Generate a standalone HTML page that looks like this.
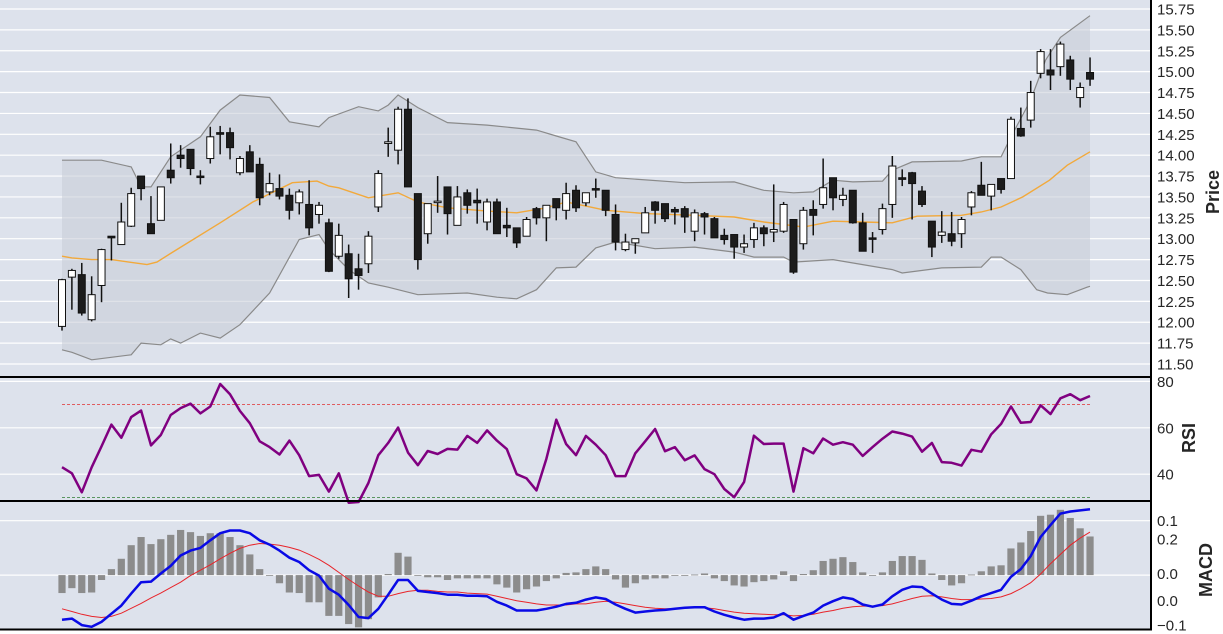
<!DOCTYPE html>
<html><head><meta charset="utf-8">
<style>
html,body{margin:0;padding:0;background:#fff;}
svg{display:block;font-family:"Liberation Sans",Arial,sans-serif;}
</style></head>
<body>
<svg id="chart" width="1223" height="634" viewBox="0 0 1223 634" xmlns="http://www.w3.org/2000/svg">
  <rect x="0" y="0" width="1151" height="377" fill="#dde2ec"/>
  <rect x="0" y="377" width="1151" height="124" fill="#dde2ec"/>
  <rect x="0" y="501" width="1151" height="129" fill="#dde2ec"/>
  <g id="grid"></g>
  <g id="band"></g>
  <g id="candles"></g>
  <g id="rsi"></g>
  <g id="macd"></g>
  <g id="axes"></g>
  <line x1="0" y1="377" x2="1152" y2="377" stroke="#000" stroke-width="2"/>
  <line x1="0" y1="501" x2="1152" y2="501" stroke="#000" stroke-width="2"/>
  <line x1="0" y1="629.5" x2="1152" y2="629.5" stroke="#000" stroke-width="2"/>
  <line x1="1151" y1="0" x2="1151" y2="630" stroke="#000" stroke-width="2"/>
  <text x="0" y="0" transform="translate(1219,192) rotate(-90)" text-anchor="middle" font-size="18" font-weight="bold" fill="#262626">Price</text>
  <text x="0" y="0" transform="translate(1195,438) rotate(-90)" text-anchor="middle" font-size="18" font-weight="bold" fill="#262626">RSI</text>
  <text x="0" y="0" transform="translate(1212,570) rotate(-90)" text-anchor="middle" font-size="18" font-weight="bold" fill="#262626">MACD</text>
</svg>
<script>
const openP=[11.95,12.54,12.57,12.03,12.44,13.03,12.93,13.15,13.75,13.18,13.22,13.82,14.00,14.07,13.75,13.96,14.27,14.27,13.79,14.04,13.89,13.56,13.60,13.52,13.43,13.41,13.29,13.19,12.79,12.82,12.64,12.70,13.38,14.14,14.06,14.55,13.54,13.06,13.44,13.62,13.16,13.55,13.46,13.20,13.44,13.16,13.13,13.03,13.36,13.25,13.48,13.34,13.58,13.43,13.60,13.58,13.29,12.87,12.95,13.07,13.44,13.42,13.35,13.36,13.09,13.30,13.24,13.04,13.05,12.90,12.99,13.13,13.08,13.09,13.23,12.94,13.35,13.41,13.73,13.47,13.58,13.19,13.01,13.11,13.41,13.73,13.79,13.57,13.21,13.04,13.06,13.06,13.38,13.64,13.51,13.72,13.72,14.32,14.42,14.98,15.02,15.06,15.14,14.69,14.99];
const highP=[12.52,12.64,12.71,12.55,12.88,13.03,13.43,13.61,13.75,13.51,13.62,14.14,14.12,14.07,13.82,14.34,14.35,14.33,13.99,14.12,13.97,13.79,13.77,13.60,13.59,13.70,13.44,13.24,13.18,12.93,12.82,13.09,13.82,14.33,14.58,14.68,13.54,13.42,13.75,13.62,13.63,13.59,13.60,13.48,13.48,13.37,13.13,13.26,13.38,13.40,13.48,13.67,13.64,13.55,13.72,13.58,13.41,13.06,13.00,13.38,13.45,13.42,13.38,13.39,13.35,13.32,13.26,13.12,13.05,13.05,13.19,13.16,13.65,13.44,13.23,13.38,13.46,13.96,13.73,13.61,13.58,13.31,13.08,13.42,13.99,13.83,13.80,13.63,13.21,13.33,13.32,13.26,13.57,13.92,13.65,13.72,14.46,14.57,14.89,15.27,15.27,15.36,15.19,14.87,15.17];
const lowP=[11.90,12.15,12.08,12.01,12.24,12.74,12.93,13.14,13.46,13.06,13.22,13.66,13.85,13.76,13.65,13.90,14.01,13.95,13.76,13.80,13.40,13.52,13.47,13.23,13.29,13.04,13.18,12.60,12.76,12.29,12.39,12.59,13.32,13.98,13.89,13.62,12.63,12.94,13.31,13.05,13.16,13.30,13.18,13.10,13.06,13.02,12.89,13.03,13.17,12.97,13.22,13.23,13.32,13.39,13.49,13.27,12.86,12.85,12.82,13.07,13.18,13.20,13.17,13.07,12.97,13.05,13.01,12.93,12.76,12.83,12.89,12.91,12.96,13.07,12.58,12.87,13.04,13.36,13.34,13.39,13.18,12.85,12.83,13.05,13.25,13.63,13.23,13.38,12.78,12.95,12.91,12.89,13.28,13.52,13.34,13.54,13.72,14.22,14.33,14.92,14.78,14.95,14.78,14.57,14.83];
const closeP=[12.51,12.62,12.11,12.33,12.87,13.01,13.20,13.54,13.60,13.06,13.62,13.73,13.96,13.84,13.74,14.22,14.25,14.09,13.96,13.80,13.49,13.66,13.51,13.34,13.56,13.13,13.40,12.61,13.04,12.52,12.56,13.03,13.78,14.16,14.55,13.62,12.75,13.42,13.45,13.30,13.50,13.40,13.43,13.44,13.06,13.13,12.95,13.23,13.25,13.40,13.37,13.54,13.37,13.55,13.59,13.34,12.96,12.96,13.00,13.31,13.34,13.24,13.32,13.26,13.31,13.26,13.01,12.99,12.90,12.94,13.13,13.06,13.11,13.41,12.60,13.34,13.28,13.61,13.49,13.52,13.19,12.85,13.00,13.36,13.87,13.71,13.66,13.41,12.90,13.08,12.97,13.23,13.55,13.52,13.65,13.59,14.43,14.23,14.75,15.24,14.96,15.33,14.91,14.81,14.91];
const upperIdx=[0,4,7,8,9,11,14,16,18,21,23,26,27,30,32,33,34,36,39,43,48,50,52,54,56,63,68,71,74,76,78,80,83,84,86,91,93,95,96,98,99.5,101,104];
const upperVal=[13.94,13.94,13.86,13.62,13.62,13.98,14.22,14.54,14.72,14.69,14.40,14.34,14.45,14.58,14.53,14.60,14.72,14.57,14.39,14.36,14.30,14.23,14.16,13.80,13.73,13.67,13.68,13.58,13.55,13.56,13.70,13.68,13.69,13.82,13.92,13.93,13.98,13.98,14.22,14.66,15.14,15.41,15.67];
const lowerIdx=[0,1,3,7,8,10,11,12,14,16,18,21,24,26,27,29,31,33,35,36,41,44,46,48,50,52,54,56,60,64,68,70,73,74,78,81,84,85,89,93,94,95,97,98.6,99.7,101.7,103.7,104];
const lowerVal=[11.67,11.64,11.55,11.61,11.75,11.73,11.80,11.75,11.87,11.81,11.97,12.35,12.99,13.05,12.87,12.63,12.47,12.42,12.36,12.33,12.35,12.30,12.28,12.39,12.65,12.66,12.89,12.96,12.88,12.90,12.84,12.78,12.78,12.72,12.75,12.69,12.63,12.59,12.65,12.66,12.78,12.78,12.63,12.39,12.35,12.33,12.42,12.43];
const maIdx=[0,1,3,5,8.6,9.6,11.2,16,19.3,23.3,25.8,27,28,31,34,36,39,43,46,49,51,53,55,59,64,68,71,75,78,81,84,86.5,91,93,95,97.2,99.9,101.7,104];
const maVal=[12.79,12.77,12.75,12.75,12.69,12.72,12.84,13.19,13.44,13.67,13.69,13.63,13.61,13.49,13.55,13.44,13.37,13.33,13.31,13.37,13.44,13.39,13.34,13.30,13.28,13.26,13.20,13.14,13.21,13.20,13.19,13.27,13.28,13.32,13.38,13.50,13.70,13.88,14.04];
const rsiVal=[43.0,40.4,32.2,43.0,52.0,61.4,55.7,64.6,67.4,52.4,56.9,65.5,68.5,70.4,66.2,69.2,78.9,74.5,67.3,62.0,54.2,51.7,48.5,54.5,48.2,39.2,39.7,32.5,40.4,27.7,28.0,36.2,48.2,53.5,60.1,49.3,43.9,50.0,48.7,50.9,50.6,56.5,53.5,58.9,54.5,50.8,40.0,38.2,33.0,46.7,63.5,53.0,48.2,56.5,52.7,48.2,39.2,39.2,49.0,54.2,59.5,49.9,51.7,46.0,48.1,42.2,40.0,33.6,30.1,36.7,56.6,53.0,53.2,53.2,32.5,51.2,49.0,55.4,52.7,53.8,52.7,47.9,51.7,55.3,58.4,57.5,56.2,49.7,53.5,45.2,44.9,43.7,50.5,49.7,57.2,61.7,69.2,62.2,62.5,69.7,65.9,72.7,74.5,71.9,73.7];
const histVal=[-0.033,-0.024,-0.033,-0.032,-0.009,0.011,0.030,0.055,0.070,0.057,0.066,0.074,0.083,0.079,0.072,0.077,0.077,0.070,0.055,0.038,0.011,-0.001,-0.015,-0.032,-0.033,-0.050,-0.050,-0.075,-0.075,-0.090,-0.096,-0.081,-0.041,0.002,0.041,0.034,-0.001,-0.004,-0.004,-0.009,-0.006,-0.006,-0.006,-0.006,-0.017,-0.023,-0.032,-0.026,-0.021,-0.011,-0.006,0.004,0.005,0.011,0.016,0.011,-0.008,-0.023,-0.015,-0.008,-0.006,-0.006,0,0,0.001,0.003,-0.006,-0.011,-0.019,-0.021,-0.013,-0.011,-0.008,0.007,-0.011,0.002,0.009,0.026,0.030,0.033,0.024,0.005,-0.001,0.005,0.026,0.035,0.035,0.028,0.003,-0.009,-0.019,-0.015,0.001,0.007,0.016,0.018,0.049,0.060,0.081,0.109,0.111,0.120,0.105,0.086,0.071];
const macdVal=[-0.082,-0.080,-0.092,-0.095,-0.086,-0.071,-0.056,-0.034,-0.013,-0.012,0.003,0.017,0.036,0.045,0.050,0.064,0.077,0.082,0.082,0.077,0.064,0.056,0.045,0.032,0.024,0.009,-0.001,-0.025,-0.036,-0.055,-0.077,-0.079,-0.062,-0.036,-0.009,-0.009,-0.029,-0.031,-0.033,-0.036,-0.036,-0.038,-0.038,-0.039,-0.049,-0.056,-0.065,-0.065,-0.065,-0.062,-0.058,-0.053,-0.051,-0.045,-0.041,-0.044,-0.054,-0.062,-0.069,-0.067,-0.065,-0.064,-0.062,-0.060,-0.059,-0.059,-0.067,-0.073,-0.078,-0.082,-0.080,-0.080,-0.078,-0.070,-0.082,-0.075,-0.069,-0.056,-0.048,-0.041,-0.044,-0.054,-0.058,-0.054,-0.039,-0.027,-0.021,-0.022,-0.034,-0.045,-0.053,-0.054,-0.047,-0.039,-0.033,-0.027,-0.003,0.011,0.035,0.070,0.092,0.113,0.117,0.119,0.121];
const signalVal=[-0.062,-0.067,-0.072,-0.076,-0.078,-0.076,-0.070,-0.061,-0.052,-0.042,-0.033,-0.023,-0.013,-0.001,0.009,0.019,0.030,0.040,0.049,0.055,0.058,0.057,0.055,0.051,0.046,0.038,0.029,0.018,0.005,-0.008,-0.020,-0.031,-0.039,-0.039,-0.034,-0.030,-0.028,-0.028,-0.030,-0.031,-0.031,-0.033,-0.034,-0.035,-0.039,-0.043,-0.047,-0.050,-0.053,-0.055,-0.055,-0.055,-0.053,-0.053,-0.050,-0.048,-0.050,-0.053,-0.056,-0.059,-0.061,-0.062,-0.062,-0.061,-0.060,-0.060,-0.062,-0.065,-0.068,-0.070,-0.071,-0.072,-0.073,-0.073,-0.075,-0.074,-0.072,-0.068,-0.065,-0.061,-0.058,-0.057,-0.057,-0.056,-0.053,-0.048,-0.043,-0.039,-0.038,-0.040,-0.043,-0.045,-0.045,-0.044,-0.043,-0.040,-0.034,-0.025,-0.014,0.002,0.021,0.038,0.055,0.068,0.079];
const priceTicks=["15.75","15.50","15.25","15.00","14.75","14.50","14.25","14.00","13.75","13.50","13.25","13.00","12.75","12.50","12.25","12.00","11.75","11.50"];
const rsiTicks=[80,60,40];
const macdGrid=[0.1,0,-0.1];
const macdTickLabels=["0.1","0.2","0.0","0.0","\u22120.1"];
const macdTickVals=[0.1,0.066,0.003,-0.047,-0.092];

const NS="http://www.w3.org/2000/svg";
function xS(i){return 62+i*9.885;}
function yP(p){return 9+(15.75-p)*83.53;}
function yR(v){return 381.4+(80-v)*2.32;}
function yM(v){return 575.1-v*544;}
function mk(tag,attrs,parent){const e=document.createElementNS(NS,tag);for(const k in attrs)e.setAttribute(k,attrs[k]);parent.appendChild(e);return e;}
const grid=document.getElementById('grid'),band=document.getElementById('band'),cg=document.getElementById('candles'),rg=document.getElementById('rsi'),mg=document.getElementById('macd'),ax=document.getElementById('axes');

priceTicks.forEach(t=>{const y=yP(parseFloat(t));
  const l=mk('line',{x1:0,x2:1150,y1:y,y2:y,stroke:'#fff','stroke-width':1.2},grid);
  
  
  const tx=mk('text',{x:1157,y:y+5.5,'font-size':15,fill:'#262626'},ax);tx.textContent=t;
  
  
});
rsiTicks.forEach(v=>{const y=yR(v);
  const l=mk('line',{x1:0,x2:1150,y1:y,y2:y,stroke:'#fff','stroke-width':1.2},grid);
  
  
  const tx=mk('text',{x:1157,y:y+5.5,'font-size':15,fill:'#262626'},ax);tx.textContent=String(v);
  
  
});
macdGrid.forEach(v=>{const y=yM(v);
  const l=mk('line',{x1:0,x2:1150,y1:y,y2:y,stroke:'#fff','stroke-width':1.2},grid);
  
  
});
macdTickLabels.forEach((t,k)=>{const y=yM(macdTickVals[k]);
  const tx=mk('text',{x:1157,y:y+5.5,'font-size':15,fill:'#262626'},ax);tx.textContent=t;
  
  
});

// Bollinger fill
function pts(idx,val){return idx.map((i,k)=>xS(i).toFixed(1)+','+yP(val[k]).toFixed(1));}
const up=pts(upperIdx,upperVal),lo=pts(lowerIdx,lowerVal);
const fill=mk('polygon',{points:up.concat(lo.slice().reverse()).join(' '),fill:'#c9ced9','fill-opacity':0.6},band);


const ul=mk('polyline',{points:up.join(' '),fill:'none',stroke:'#8a8a8a','stroke-width':1.2},band);


const ll=mk('polyline',{points:lo.join(' '),fill:'none',stroke:'#8a8a8a','stroke-width':1.2},band);



// candles
for(let i=0;i<openP.length;i++){
  const x=xS(i),o=openP[i],c=closePLookup(i),up2=c>=o;
  const w=mk('line',{x1:x,x2:x,y1:yP(highP[i]),y2:yP(lowP[i]),stroke:'#111','stroke-width':1.5},cg);
  
  
  const top=yP(Math.max(o,c)),bot=yP(Math.min(o,c));
  const b=mk('rect',{x:x-3.5,y:top,width:7,height:Math.max(1.5,bot-top),fill:up2?'#fff':'#1c1c1c',stroke:'#111','stroke-width':1},cg);
  
  
}
function closePLookup(i){return closeP[i];}

// MA
const ma=mk('polyline',{points:pts(maIdx,maVal).join(' '),fill:'none',stroke:'#f2a93b','stroke-width':1.4},band);



// RSI
const r70=mk('line',{x1:xS(0),x2:xS(104),y1:yR(70),y2:yR(70),stroke:'#e03030','stroke-width':0.8,'stroke-dasharray':'3,2'},rg);


const r30=mk('line',{x1:xS(0),x2:xS(104),y1:yR(30),y2:yR(30),stroke:'#2e7d32','stroke-width':0.8,'stroke-dasharray':'3,2'},rg);


const rl=mk('polyline',{points:rsiVal.map((v,i)=>xS(i).toFixed(1)+','+yR(v).toFixed(1)).join(' '),fill:'none',stroke:'#800080','stroke-width':2.5,'stroke-linejoin':'round'},rg);



// MACD
histVal.forEach((v,i)=>{const y0=yM(0),y1=yM(v);
  const b=mk('rect',{x:xS(i)-3.6,y:Math.min(y0,y1),width:7.2,height:Math.max(0.8,Math.abs(y1-y0)),fill:'#8c8c8c'},mg);
  
  
});
const sl=mk('polyline',{points:signalVal.map((v,i)=>xS(i).toFixed(1)+','+yM(v).toFixed(1)).join(' '),fill:'none',stroke:'#e8242a','stroke-width':1},mg);


const ml=mk('polyline',{points:macdVal.map((v,i)=>xS(i).toFixed(1)+','+yM(v).toFixed(1)).join(' '),fill:'none',stroke:'#0a0ae6','stroke-width':2.5,'stroke-linejoin':'round'},mg);


</script>
</body></html>
